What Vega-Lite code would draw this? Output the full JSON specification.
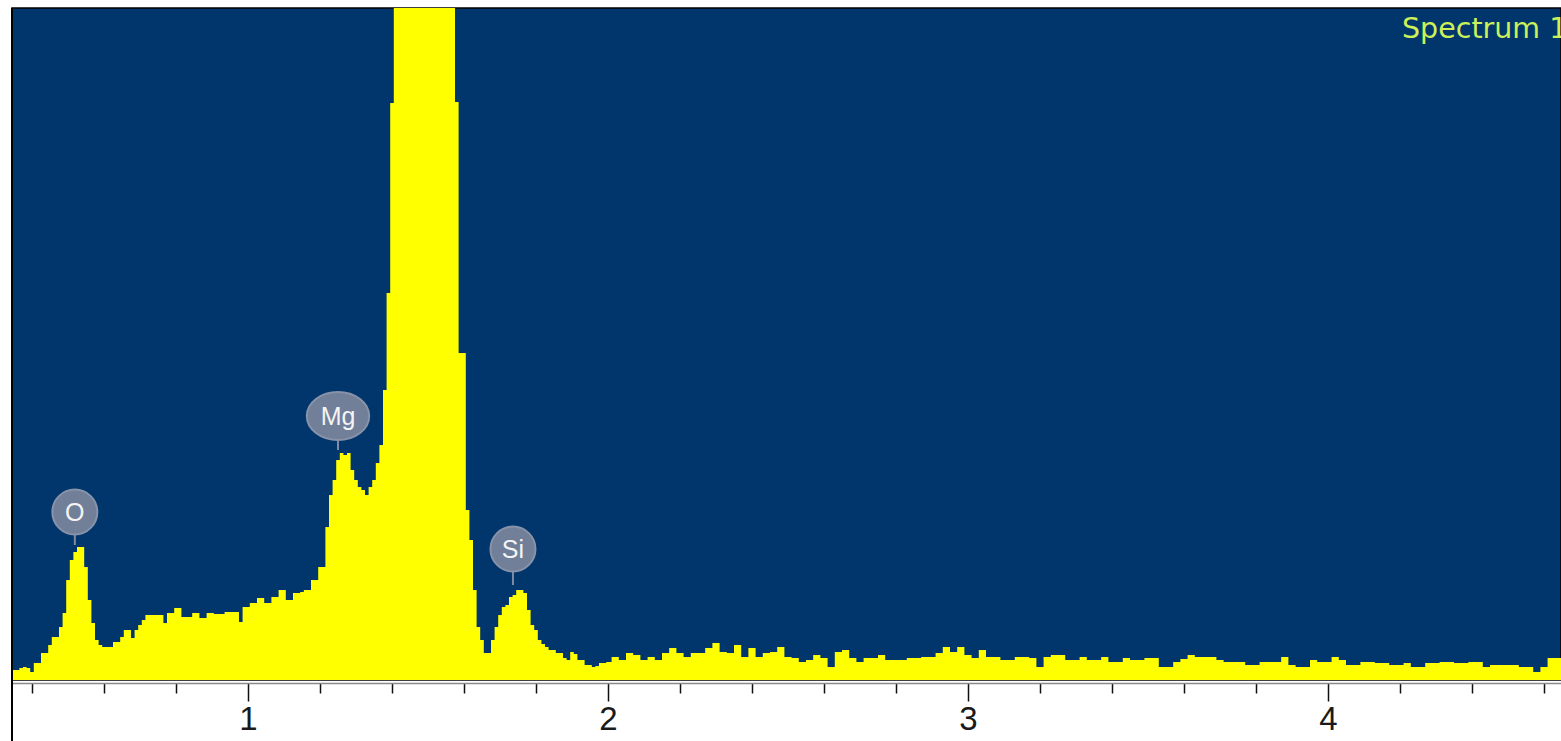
{
  "$schema": "https://vega.github.io/schema/vega-lite/v6.json",
  "width": 1549,
  "height": 672,
  "autosize": {"type": "none"},
  "padding": {"left": 12, "top": 8, "right": 0, "bottom": 61},
  "background": "#ffffff",
  "datasets": {
    "spectrum": [
      {"keV":0.34,"counts":10},{"keV":0.35,"counts":10},{"keV":0.36,"counts":10},{"keV":0.37,"counts":12},{"keV":0.38,"counts":13},{"keV":0.39,"counts":12},{"keV":0.40,"counts":8},{"keV":0.41,"counts":17},{"keV":0.42,"counts":17},{"keV":0.43,"counts":27},{"keV":0.44,"counts":27},{"keV":0.45,"counts":35},{"keV":0.46,"counts":43},{"keV":0.47,"counts":43},{"keV":0.48,"counts":53},{"keV":0.49,"counts":67},
      {"keV":0.50,"counts":100},{"keV":0.51,"counts":120},{"keV":0.52,"counts":128},{"keV":0.53,"counts":133},{"keV":0.54,"counts":133},{"keV":0.55,"counts":113},{"keV":0.56,"counts":80},{"keV":0.57,"counts":57},{"keV":0.58,"counts":40},{"keV":0.59,"counts":35},
      {"keV":0.60,"counts":33},{"keV":0.61,"counts":33},{"keV":0.62,"counts":33},{"keV":0.63,"counts":38},{"keV":0.64,"counts":38},{"keV":0.65,"counts":43},{"keV":0.66,"counts":50},{"keV":0.67,"counts":50},{"keV":0.68,"counts":42},{"keV":0.69,"counts":50},
      {"keV":0.70,"counts":55},{"keV":0.71,"counts":60},{"keV":0.72,"counts":65},{"keV":0.73,"counts":65},{"keV":0.74,"counts":65},{"keV":0.75,"counts":65},{"keV":0.76,"counts":65},{"keV":0.77,"counts":57},{"keV":0.78,"counts":67},{"keV":0.79,"counts":67},
      {"keV":0.80,"counts":72},{"keV":0.81,"counts":72},{"keV":0.82,"counts":63},{"keV":0.83,"counts":63},{"keV":0.84,"counts":63},{"keV":0.85,"counts":67},{"keV":0.86,"counts":67},{"keV":0.87,"counts":62},{"keV":0.88,"counts":62},{"keV":0.89,"counts":67},
      {"keV":0.90,"counts":67},{"keV":0.91,"counts":66},{"keV":0.92,"counts":66},{"keV":0.93,"counts":66},{"keV":0.94,"counts":68},{"keV":0.95,"counts":68},{"keV":0.96,"counts":68},{"keV":0.97,"counts":68},{"keV":0.98,"counts":58},{"keV":0.99,"counts":73},
      {"keV":1.00,"counts":73},{"keV":1.01,"counts":77},{"keV":1.02,"counts":77},{"keV":1.03,"counts":82},{"keV":1.04,"counts":82},{"keV":1.05,"counts":77},{"keV":1.06,"counts":77},{"keV":1.07,"counts":83},{"keV":1.08,"counts":83},{"keV":1.09,"counts":90},
      {"keV":1.10,"counts":90},{"keV":1.11,"counts":80},{"keV":1.12,"counts":80},{"keV":1.13,"counts":87},{"keV":1.14,"counts":87},{"keV":1.15,"counts":88},{"keV":1.16,"counts":90},{"keV":1.17,"counts":90},{"keV":1.18,"counts":100},{"keV":1.19,"counts":100},
      {"keV":1.20,"counts":113},{"keV":1.21,"counts":113},{"keV":1.22,"counts":153},{"keV":1.23,"counts":185},{"keV":1.24,"counts":200},{"keV":1.25,"counts":220},{"keV":1.26,"counts":227},{"keV":1.27,"counts":225},{"keV":1.28,"counts":227},{"keV":1.29,"counts":210},
      {"keV":1.30,"counts":200},{"keV":1.31,"counts":193},{"keV":1.32,"counts":190},{"keV":1.33,"counts":185},{"keV":1.34,"counts":193},{"keV":1.35,"counts":200},{"keV":1.36,"counts":217},{"keV":1.37,"counts":235},{"keV":1.38,"counts":290},{"keV":1.39,"counts":387},
      {"keV":1.40,"counts":577},{"keV":1.41,"counts":800},{"keV":1.42,"counts":800},{"keV":1.43,"counts":800},{"keV":1.44,"counts":800},{"keV":1.45,"counts":800},{"keV":1.46,"counts":800},{"keV":1.47,"counts":800},{"keV":1.48,"counts":800},{"keV":1.49,"counts":800},
      {"keV":1.50,"counts":800},{"keV":1.51,"counts":800},{"keV":1.52,"counts":800},{"keV":1.53,"counts":800},{"keV":1.54,"counts":800},{"keV":1.55,"counts":800},{"keV":1.56,"counts":800},{"keV":1.57,"counts":800},{"keV":1.58,"counts":578},{"keV":1.59,"counts":327},
      {"keV":1.60,"counts":327},{"keV":1.61,"counts":170},{"keV":1.62,"counts":140},{"keV":1.63,"counts":90},{"keV":1.64,"counts":53},{"keV":1.65,"counts":40},{"keV":1.66,"counts":27},{"keV":1.67,"counts":27},{"keV":1.68,"counts":40},{"keV":1.69,"counts":53},
      {"keV":1.70,"counts":65},{"keV":1.71,"counts":73},{"keV":1.72,"counts":75},{"keV":1.73,"counts":83},{"keV":1.74,"counts":85},{"keV":1.75,"counts":90},{"keV":1.76,"counts":90},{"keV":1.77,"counts":87},{"keV":1.78,"counts":70},{"keV":1.79,"counts":55},
      {"keV":1.80,"counts":50},{"keV":1.81,"counts":40},{"keV":1.82,"counts":36},{"keV":1.83,"counts":33},{"keV":1.84,"counts":30},{"keV":1.85,"counts":30},{"keV":1.86,"counts":27},{"keV":1.87,"counts":27},{"keV":1.88,"counts":22},{"keV":1.89,"counts":20},
      {"keV":1.90,"counts":28},{"keV":1.91,"counts":26},{"keV":1.92,"counts":20},{"keV":1.93,"counts":20},{"keV":1.94,"counts":15},{"keV":1.95,"counts":15},{"keV":1.96,"counts":13},{"keV":1.97,"counts":14},{"keV":1.98,"counts":17},{"keV":1.99,"counts":17},
      {"keV":2.00,"counts":18},{"keV":2.02,"counts":23},{"keV":2.04,"counts":20},{"keV":2.06,"counts":27},{"keV":2.08,"counts":25},{"keV":2.10,"counts":20},{"keV":2.12,"counts":23},{"keV":2.14,"counts":20},{"keV":2.16,"counts":27},{"keV":2.18,"counts":32},
      {"keV":2.20,"counts":27},{"keV":2.22,"counts":23},{"keV":2.24,"counts":27},{"keV":2.26,"counts":27},{"keV":2.28,"counts":32},{"keV":2.30,"counts":37},{"keV":2.32,"counts":28},{"keV":2.34,"counts":27},{"keV":2.36,"counts":35},{"keV":2.38,"counts":23},
      {"keV":2.40,"counts":32},{"keV":2.42,"counts":23},{"keV":2.44,"counts":27},{"keV":2.46,"counts":28},{"keV":2.48,"counts":33},{"keV":2.50,"counts":23},{"keV":2.52,"counts":22},{"keV":2.54,"counts":18},{"keV":2.56,"counts":20},{"keV":2.58,"counts":25},
      {"keV":2.60,"counts":22},{"keV":2.62,"counts":13},{"keV":2.64,"counts":28},{"keV":2.66,"counts":30},{"keV":2.68,"counts":22},{"keV":2.70,"counts":18},{"keV":2.72,"counts":22},{"keV":2.74,"counts":22},{"keV":2.76,"counts":25},{"keV":2.78,"counts":20},
      {"keV":2.80,"counts":20},{"keV":2.82,"counts":20},{"keV":2.84,"counts":22},{"keV":2.86,"counts":22},{"keV":2.88,"counts":23},{"keV":2.90,"counts":23},{"keV":2.92,"counts":27},{"keV":2.94,"counts":33},{"keV":2.96,"counts":28},{"keV":2.98,"counts":33},
      {"keV":3.00,"counts":25},{"keV":3.02,"counts":22},{"keV":3.04,"counts":30},{"keV":3.06,"counts":23},{"keV":3.08,"counts":23},{"keV":3.10,"counts":20},{"keV":3.12,"counts":20},{"keV":3.14,"counts":23},{"keV":3.16,"counts":23},{"keV":3.18,"counts":22},
      {"keV":3.20,"counts":13},{"keV":3.22,"counts":23},{"keV":3.24,"counts":25},{"keV":3.26,"counts":25},{"keV":3.28,"counts":20},{"keV":3.30,"counts":20},{"keV":3.32,"counts":23},{"keV":3.34,"counts":20},{"keV":3.36,"counts":20},{"keV":3.38,"counts":23},
      {"keV":3.40,"counts":18},{"keV":3.42,"counts":18},{"keV":3.44,"counts":22},{"keV":3.46,"counts":20},{"keV":3.48,"counts":20},{"keV":3.50,"counts":22},{"keV":3.52,"counts":22},{"keV":3.54,"counts":13},{"keV":3.56,"counts":13},{"keV":3.58,"counts":18},
      {"keV":3.60,"counts":21},{"keV":3.62,"counts":25},{"keV":3.64,"counts":23},{"keV":3.66,"counts":23},{"keV":3.68,"counts":23},{"keV":3.70,"counts":20},{"keV":3.72,"counts":18},{"keV":3.74,"counts":18},{"keV":3.76,"counts":18},{"keV":3.78,"counts":15},
      {"keV":3.80,"counts":15},{"keV":3.82,"counts":18},{"keV":3.84,"counts":18},{"keV":3.86,"counts":18},{"keV":3.88,"counts":23},{"keV":3.90,"counts":15},{"keV":3.92,"counts":13},{"keV":3.94,"counts":13},{"keV":3.96,"counts":20},{"keV":3.98,"counts":18},
      {"keV":4.00,"counts":18},{"keV":4.02,"counts":23},{"keV":4.04,"counts":20},{"keV":4.06,"counts":15},{"keV":4.08,"counts":15},{"keV":4.10,"counts":18},{"keV":4.12,"counts":18},{"keV":4.14,"counts":17},{"keV":4.16,"counts":17},{"keV":4.18,"counts":15},
      {"keV":4.20,"counts":15},{"keV":4.22,"counts":17},{"keV":4.24,"counts":13},{"keV":4.26,"counts":13},{"keV":4.28,"counts":17},{"keV":4.30,"counts":17},{"keV":4.32,"counts":18},{"keV":4.34,"counts":18},{"keV":4.36,"counts":17},{"keV":4.38,"counts":17},
      {"keV":4.40,"counts":18},{"keV":4.42,"counts":18},{"keV":4.44,"counts":13},{"keV":4.46,"counts":15},{"keV":4.48,"counts":15},{"keV":4.50,"counts":15},{"keV":4.52,"counts":15},{"keV":4.54,"counts":13},{"keV":4.56,"counts":13},{"keV":4.58,"counts":8},
      {"keV":4.60,"counts":13},{"keV":4.62,"counts":22},{"keV":4.64,"counts":22},{"keV":4.66,"counts":22}
    ],
    "peaks": [
      {"element":"O","keV":0.519,"peak":135,"label_y":168},
      {"element":"Mg","keV":1.25,"peak":230,"label_y":264},
      {"element":"Si","keV":1.736,"peak":95,"label_y":131}
    ]
  },
  "layer": [
    {
      "data": {"name": "spectrum"},
      "mark": {"type": "area", "interpolate": "step", "color": "#ffff00", "clip": true},
      "encoding": {
        "x": {
          "field": "keV", "type": "quantitative",
          "scale": {"domain": [0.34444, 4.64722], "nice": false, "zero": false},
          "axis": {
            "title": null,
            "values": [0.4,0.5,0.6,0.7,0.8,0.9,1,1.1,1.2,1.3,1.4,1.5,1.6,1.7,1.8,1.9,2,2.1,2.2,2.3,2.4,2.5,2.6,2.7,2.8,2.9,3,3.1,3.2,3.3,3.4,3.5,3.6,3.7,3.8,3.9,4,4.1,4.2,4.3,4.4,4.5,4.6],
            "format": ".0f",
            "labelExpr": "datum.value % 1 === 0 ? datum.label : ''",
            "offset": 3,
            "domainColor": "#8a8a8a",
            "domainWidth": 1.5,
            "tickColor": "#111111",
            "tickWidth": 1.5,
            "tickSize": {"condition": {"test": "datum.value % 1 === 0", "value": 18}, "value": 10},
            "labelPadding": 2,
            "labelFont": "Liberation Sans",
            "labelFontSize": 33,
            "labelColor": "#1a1a1a",
            "labelFlush": false,
            "labelOverlap": false,
            "grid": false
          }
        },
        "y": {
          "field": "counts", "type": "quantitative",
          "scale": {"domain": [0, 672], "nice": false, "zero": false},
          "axis": null
        }
      }
    },
    {
      "data": {"values": [{"edge": "left"}]},
      "mark": {"type": "rule", "color": "#000000", "strokeWidth": 2, "clip": false},
      "encoding": {
        "x": {"datum": 0.34444, "type": "quantitative", "scale": {"domain": [0.34444, 4.64722], "nice": false, "zero": false}},
        "y": {"datum": 672, "type": "quantitative", "scale": {"domain": [0, 672], "nice": false, "zero": false}, "axis": null},
        "y2": {"datum": -70}
      }
    },
    {
      "data": {"name": "peaks"},
      "mark": {"type": "rule", "color": "#7f8ba3", "strokeWidth": 2},
      "encoding": {
        "x": {"field": "keV", "type": "quantitative"},
        "y": {"field": "peak", "type": "quantitative", "axis": null},
        "y2": {"field": "label_y"}
      }
    },
    {
      "data": {"name": "peaks"},
      "transform": [{"filter": "datum.element !== 'Mg'"}],
      "mark": {"type": "point", "shape": "circle", "filled": true, "size": 2025, "color": "#717f99", "stroke": "#8893aa", "strokeWidth": 2, "opacity": 1},
      "encoding": {
        "x": {"field": "keV", "type": "quantitative"},
        "y": {"field": "label_y", "type": "quantitative", "axis": null}
      }
    },
    {
      "data": {"name": "peaks"},
      "transform": [{"filter": "datum.element === 'Mg'"}],
      "mark": {"type": "point", "shape": "M-1.3,0A1.3,1,0,1,0,1.3,0A1.3,1,0,1,0,-1.3,0Z", "filled": true, "size": 2304, "color": "#717f99", "stroke": "#8893aa", "strokeWidth": 2, "opacity": 1},
      "encoding": {
        "x": {"field": "keV", "type": "quantitative"},
        "y": {"field": "label_y", "type": "quantitative", "axis": null}
      }
    },
    {
      "data": {"name": "peaks"},
      "mark": {"type": "text", "color": "#f4f4f4", "font": "Liberation Sans", "fontSize": 25, "align": "center", "baseline": "middle", "dy": 1},
      "encoding": {
        "x": {"field": "keV", "type": "quantitative"},
        "y": {"field": "label_y", "type": "quantitative", "axis": null},
        "text": {"field": "element"}
      }
    },
    {
      "data": {"values": [{"name": "Spectrum 1"}]},
      "mark": {"type": "text", "color": "#ccf05a", "font": "DejaVu Sans", "fontSize": 28.5, "align": "left", "baseline": "alphabetic", "clip": false},
      "encoding": {
        "x": {"datum": 4.2056, "type": "quantitative"},
        "y": {"datum": 642, "type": "quantitative", "axis": null},
        "text": {"field": "name"}
      }
    }
  ],
  "config": {
    "view": {"fill": "#00366b", "stroke": "#000000", "strokeWidth": 1.5},
    "font": "Liberation Sans"
  }
}
